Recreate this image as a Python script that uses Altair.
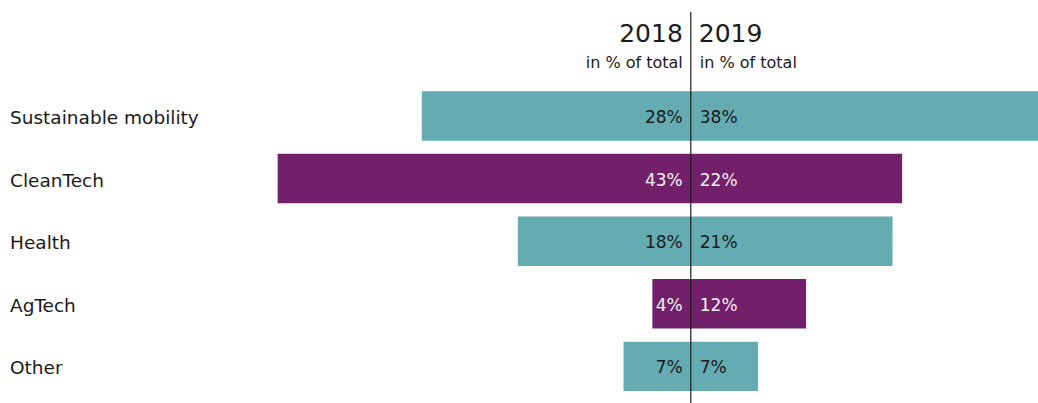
import altair as alt
import pandas as pd

categories = ["Sustainable mobility", "CleanTech", "Health", "AgTech", "Other"]
v2018 = [28, 43, 18, 4, 7]
v2019 = [38, 22, 21, 12, 7]
bar_colors = ["#64abb2", "#73206b", "#64abb2", "#73206b", "#64abb2"]
text_colors = ["#1a1a1a", "#f2f2f2", "#1a1a1a", "#f2f2f2", "#1a1a1a"]
years = ["2018", "2019"]
subtitle = "in % of total"

FONT = "DejaVu Sans"

rows = []
for i, c in enumerate(categories):
    rows.append(dict(cat=c, idx=i, lo=-v2018[i], hi=v2019[i],
                     l18=f"{v2018[i]}%", l19=f"{v2019[i]}%",
                     bar=bar_colors[i], tc=text_colors[i],
                     y0=i - 0.395, y1=i + 0.395))
df = pd.DataFrame(rows)

W, H = 1038, 403
xscale = alt.Scale(domain=[-71.9, 36.14], nice=False, zero=False)
yscale = alt.Scale(domain=[-1.853, 4.585], nice=False, zero=False, reverse=True)

base = alt.Chart(df)

bars = base.mark_rect(clip=True).encode(
    x=alt.X("lo:Q", scale=xscale, axis=None),
    x2="hi:Q",
    y=alt.Y("y0:Q", scale=yscale, axis=None),
    y2="y1:Q",
    color=alt.Color("bar:N", scale=None),
)

cat_labels = base.mark_text(align="left", baseline="middle", font=FONT,
                            fontSize=18.5, dy=2, color="#1a1a1a").encode(
    x=alt.value(10),
    y=alt.Y("idx:Q", scale=yscale, axis=None),
    text="cat:N",
)

lab18 = base.mark_text(align="right", baseline="middle", font=FONT,
                       fontSize=17, dx=-8, dy=2).encode(
    x=alt.X("zero:Q", scale=xscale, axis=None),
    y=alt.Y("idx:Q", scale=yscale, axis=None),
    text="l18:N",
    color=alt.Color("tc:N", scale=None),
).transform_calculate(zero="0")

lab19 = base.mark_text(align="left", baseline="middle", font=FONT,
                       fontSize=17, dx=9, dy=2).encode(
    x=alt.X("zero:Q", scale=xscale, axis=None),
    y=alt.Y("idx:Q", scale=yscale, axis=None),
    text="l19:N",
    color=alt.Color("tc:N", scale=None),
).transform_calculate(zero="0")

hdr = pd.DataFrame(dict(year=years, sub=[subtitle, subtitle], pos=[0, 0]))
hbase = alt.Chart(hdr)
y18 = hbase.transform_filter(alt.datum.year == "2018")
y19 = hbase.transform_filter(alt.datum.year == "2019")

h18 = y18.mark_text(align="right", baseline="alphabetic", font=FONT,
                    fontSize=25, dx=-8, color="#1a1a1a").encode(
    x=alt.X("pos:Q", scale=xscale, axis=None), y=alt.value(41.7), text="year:N")
h19 = y19.mark_text(align="left", baseline="alphabetic", font=FONT,
                    fontSize=25, dx=8, color="#1a1a1a").encode(
    x=alt.X("pos:Q", scale=xscale, axis=None), y=alt.value(41.7), text="year:N")
s18 = y18.mark_text(align="right", baseline="alphabetic", font=FONT,
                    fontSize=16, dx=-8, color="#1a1a1a").encode(
    x=alt.X("pos:Q", scale=xscale, axis=None), y=alt.value(67.7), text="sub:N")
s19 = y19.mark_text(align="left", baseline="alphabetic", font=FONT,
                    fontSize=16, dx=9, color="#1a1a1a").encode(
    x=alt.X("pos:Q", scale=xscale, axis=None), y=alt.value(67.7), text="sub:N")

rule = y18.mark_rule(color="#1a1a1a", strokeWidth=1.2).encode(
    x=alt.X("pos:Q", scale=xscale, axis=None), y=alt.value(12), y2=alt.value(403))

chart = alt.layer(bars, cat_labels, lab18, lab19, h18, h19, s18, s19, rule).properties(
    width=W, height=H,
    autosize=alt.AutoSizeParams(type="none"),
    padding=0,
    background="white",
).configure_view(stroke=None)

chart.save("out.html", embed_options={"renderer": "svg", "actions": False})
